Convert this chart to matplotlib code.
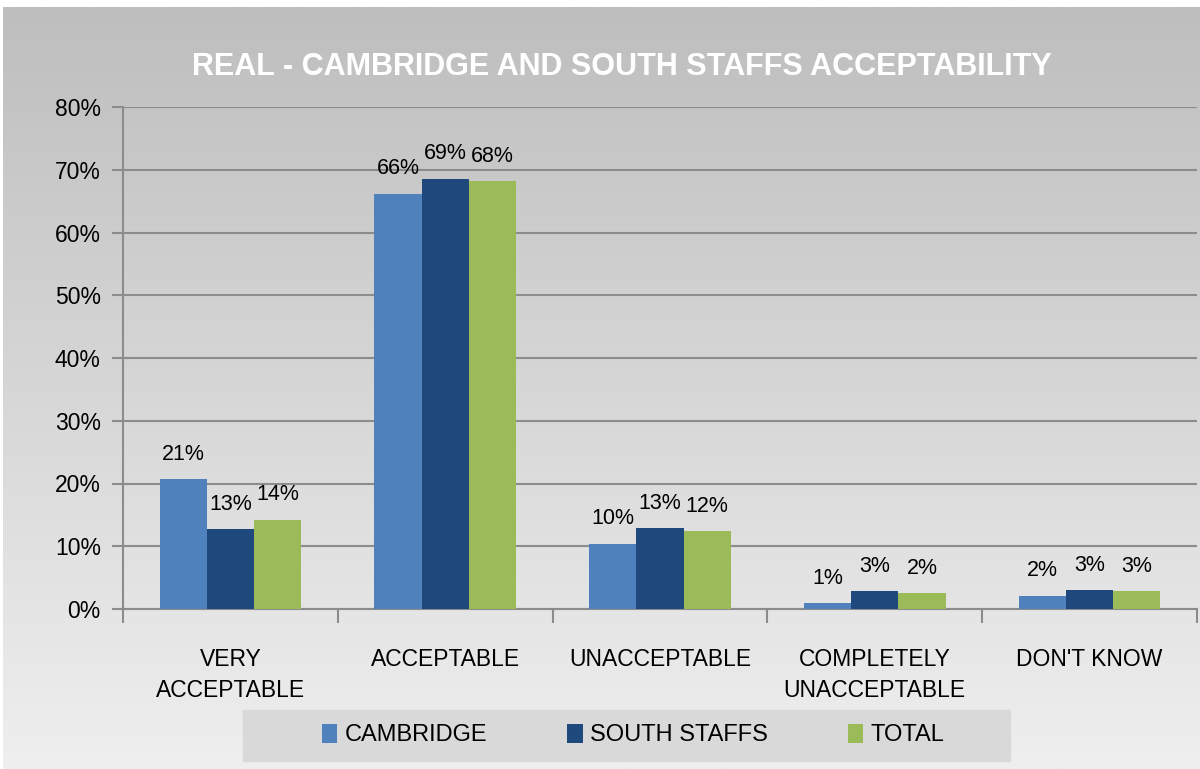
import numpy as np
import matplotlib
matplotlib.use("Agg")
from matplotlib import pyplot as plt
from matplotlib.ticker import FixedLocator, PercentFormatter
from matplotlib.patches import Rectangle

# Dados
categorias = ["VERY\nACCEPTABLE", "ACCEPTABLE", "UNACCEPTABLE", "COMPLETELY\nUNACCEPTABLE", "DON'T KNOW"]
series = ["CAMBRIDGE", "SOUTH STAFFS", "TOTAL"]
cambridge = [20.7, 66.2, 10.4, 0.9, 2.1]
south_staffs = [12.7, 68.6, 12.9, 2.8, 3.0]
total = [14.2, 68.2, 12.4, 2.5, 2.8]
rotulos_cambridge = ["21%", "66%", "10%", "1%", "2%"]
rotulos_south = ["13%", "69%", "13%", "3%", "3%"]
rotulos_total = ["14%", "68%", "12%", "2%", "3%"]
cores = ["#4F81BD", "#1F497D", "#9BBB59"]

plt.rcParams['font.family'] = ['Liberation Sans', 'DejaVu Sans']

fig = plt.figure(figsize=(12, 7.69), dpi=100)
fig.patch.set_facecolor("white")

# Fundo em degradê
fundo = fig.add_axes([3/1200, 0, 1 - 3/1200, 1 - 7/769], zorder=-10)
grad = np.linspace(0, 1, 256).reshape(-1, 1)
cmap = matplotlib.colors.LinearSegmentedColormap.from_list("g", ["#EFEFEF", "#BEBEBE"])
fundo.imshow(grad, aspect="auto", cmap=cmap, origin="lower", extent=[0, 1, 0, 1])
fundo.add_patch(Rectangle((243/1200, 8/769), 767/1200, 51/769,
                          transform=fig.transFigure, color="#D9D9D9", zorder=2))
fundo.axis("off")

ax = fig.add_axes([123/1200, 1 - 609/769, 1074/1200, 502/769])
ax.set_facecolor("none")

x = np.arange(len(categorias))
larg = 0.22
dados = [cambridge, south_staffs, total]
rotulos = [rotulos_cambridge, rotulos_south, rotulos_total]
for i, (vals, rot) in enumerate(zip(dados, rotulos)):
    pos = x + (i - 1) * larg
    ax.bar(pos, vals, width=larg, color=cores[i], label=series[i], zorder=3)
    for p, v, r in zip(pos, vals, rot):
        ax.text(p, v + 2.3, r, ha="center", va="bottom", fontsize=15.5, color="black")

ax.set_xlim(-0.5, len(categorias) - 0.5)
ax.set_ylim(0, 80)
ax.yaxis.set_major_locator(FixedLocator(np.arange(0, 81, 10)))
ax.yaxis.set_major_formatter(PercentFormatter(decimals=0))
ax.grid(axis="y", color="#8C8C8C", linewidth=1.5, zorder=0)

ax.set_xticks(x)
ax.set_xticklabels(categorias, fontsize=16.5, linespacing=1.45)
ax.xaxis.set_minor_locator(FixedLocator(np.arange(-0.5, len(categorias), 1)))
ax.tick_params(axis="x", which="major", length=0, pad=28)
ax.tick_params(axis="x", which="minor", length=10, color="#8C8C8C", width=1.5)
ax.tick_params(axis="y", length=8, color="#8C8C8C", width=1.5, labelsize=16.5, pad=8)

for lado in ["top", "right"]:
    ax.spines[lado].set_visible(False)
for lado in ["left", "bottom"]:
    ax.spines[lado].set_color("#8C8C8C")
    ax.spines[lado].set_linewidth(1.5)

fig.text(0.518, 1 - 67/769, "REAL - CAMBRIDGE AND SOUTH STAFFS ACCEPTABILITY",
         ha="center", va="center", color="white", fontsize=22, fontweight="bold")

leg = fig.legend(loc="center", bbox_to_anchor=(633/1200, 1 - 735/769), ncol=3,
                 fontsize=17, frameon=False, handlelength=0.65,
                 handleheight=0.9, handletextpad=0.3, columnspacing=3.4)

fig.savefig("out.png", dpi=100)
